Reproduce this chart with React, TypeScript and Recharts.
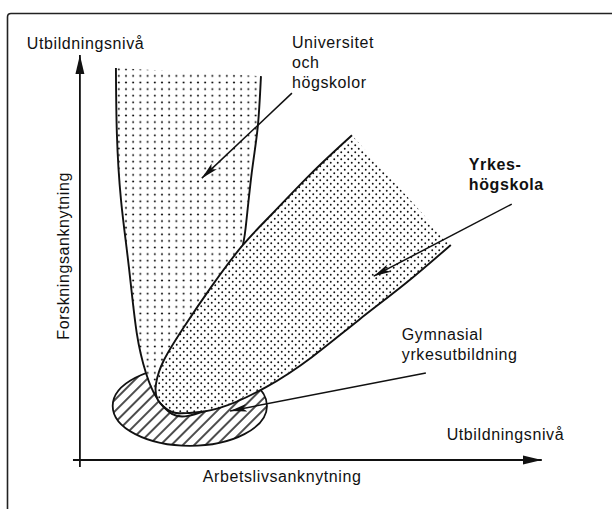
import { ScatterChart, Scatter, XAxis, YAxis } from "recharts";

// coordinates are in axis units: origin where the two axes cross, 100 = arrow tip
type Pt = { x: number; y: number };
const pts = (a: number[][]): Pt[] => a.map(([x, y]) => ({ x, y }));

const X_DOMAIN = [-17.3, 115.2];
const Y_DOMAIN = [-12.1, 113.6];

const INK = "#111";
const FONT = "'Liberation Sans', Arial, Helvetica, sans-serif";

// Universitet och högskolor (U-shaped band)
const universitetLeft = pts([
  [7.8, 96.8], [8.0, 80.7], [8.9, 64.2], [10.6, 47.7], [12.3, 31.4],
  [14.3, 21.5], [16.5, 15.6], [19.9, 11.4], [23.4, 10.9], [27.0, 12.1],
]);
const universitetRight = pts([
  [39.2, 94.8], [38.5, 82.2], [37.2, 70.9], [35.9, 57.5], [35.3, 53.1], [34.2, 45.0],
]);
const universitetInner = pts([[31.0, 28.0]]);

// Yrkeshögskola (diagonal band)
const yrkesUpper = pts([
  [58.9, 80.2], [50.2, 70.9], [41.8, 61.0], [35.3, 53.1], [28.4, 42.7], [22.5, 32.8],
  [18.2, 24.7], [16.5, 19.0], [16.9, 14.8], [19.9, 11.9], [23.4, 11.6],
]);
const yrkesLower = pts([
  [30.1, 12.8], [40.3, 18.0], [50.2, 25.4], [60.4, 34.6], [70.6, 43.7], [80.3, 53.1],
]);

// Gymnasial yrkesutbildning (ellipse bounding box)
const gymnasialBox = pts([[7.1, 23.2], [40.5, 3.5]]);

// axes and pointer arrows (start -> tip)
const yAxisLine = pts([[0, -1.7], [0, 100]]);
const xAxisLine = pts([[-1.5, 0], [100, 0]]);
const arrowUniversitet = pts([[45.9, 90.6], [26.4, 69.6]]);
const arrowYrkes = pts([[93.5, 63.2], [63.6, 45.4]]);
const arrowGymnasial = pts([[74.9, 21.5], [32.5, 12.1]]);

// texts
const universitetLabel = ["Universitet", "och", "högskolor"];
const yrkesLabel = ["Yrkes-", "högskola"];
const gymnasialLabel = ["Gymnasial", "yrkesutbildning"];
const yTitleTop = ["Utbildningsnivå"];
const xTitleRight = ["Utbildningsnivå"];
const xTitle = ["Arbetslivsanknytning"];
const yTitle = ["Forskningsanknytning"];

const universitetAt = pts([[45.9, 101.7]]);
const yrkesAt = pts([[84.2, 71.6]]);
const gymnasialAt = pts([[69.7, 29.6]]);
const yTitleTopAt = pts([[-11.5, 101.5]]);
const xTitleRightAt = pts([[79.4, 4.9]]);
const xTitleAt = pts([[26.6, -5.4]]);
const yTitleAt = pts([[-2.3, 50.4]]);

const hidden = () => <g />;

const textShape =
  (lines: string[], bold = false, rotate = false) =>
  (p: any) => (
    <text
      x={p.cx}
      y={p.cy}
      fontFamily={FONT}
      fontSize={16}
      letterSpacing={0.6}
      fontWeight={bold ? 700 : 400}
      fill={INK}
      textAnchor={rotate ? "middle" : "start"}
      transform={rotate ? `rotate(-90 ${p.cx} ${p.cy})` : undefined}
    >
      {lines.map((l, i) => (
        <tspan key={i} x={p.cx} dy={i === 0 ? 0 : 20}>
          {l}
        </tspan>
      ))}
    </text>
  );

const ellipseLine = (p: any) => {
  const [a, b] = p.points;
  return (
    <ellipse
      cx={(a.x + b.x) / 2}
      cy={(a.y + b.y) / 2}
      rx={Math.abs(b.x - a.x) / 2}
      ry={Math.abs(b.y - a.y) / 2}
      fill="url(#hatch)"
      stroke={INK}
      strokeWidth={1.8}
    />
  );
};

const arrowLine = (marker: string, width: number) => (p: any) => {
  const [a, b] = p.points;
  return (
    <path
      d={`M${a.x},${a.y}L${b.x},${b.y}`}
      stroke={INK}
      strokeWidth={width}
      fill="none"
      markerEnd={`url(#${marker})`}
    />
  );
};

const outline = { stroke: INK, strokeWidth: 1.9, fill: "none" };

export default function App() {
  const universitetFill = [...universitetLeft, ...universitetInner, ...[...universitetRight].reverse()];
  const yrkesOutline = [...yrkesUpper, ...yrkesLower];

  return (
    <div style={{ position: "absolute", left: 0, top: 0, width: 612, height: 509, background: "#fff" }}>
      <ScatterChart width={612} height={509} margin={{ top: 0, right: 0, bottom: 0, left: 0 }}>
        <defs>
          <pattern id="dotsSparse" patternUnits="userSpaceOnUse" width={7.2} height={6.6}>
            <rect width={7.2} height={6.6} fill="#fff" />
            <circle cx={3.6} cy={3.3} r={1.05} fill={INK} />
          </pattern>
          <pattern id="dotsDense" patternUnits="userSpaceOnUse" width={7} height={7}>
            <rect width={7} height={7} fill="#fff" />
            <circle cx={1.75} cy={1.75} r={0.95} fill={INK} />
            <circle cx={5.25} cy={5.25} r={0.95} fill={INK} />
          </pattern>
          <pattern id="hatch" patternUnits="userSpaceOnUse" width={8} height={8} patternTransform="rotate(45)">
            <rect width={8} height={8} fill="#fff" />
            <line x1={4} y1={0} x2={4} y2={8} stroke={INK} strokeWidth={1.5} />
          </pattern>
          <marker id="dart" markerUnits="userSpaceOnUse" markerWidth={18} markerHeight={9} refX={17} refY={4.5} orient="auto">
            <path d="M0,0.6 L17,4.5 L0,8.4 L4,4.5 Z" fill={INK} />
          </marker>
          <marker id="axisHead" markerUnits="userSpaceOnUse" markerWidth={20} markerHeight={10} refX={19} refY={5} orient="auto">
            <path d="M0,0.5 L19,5 L0,9.5 Z" fill={INK} />
          </marker>
        </defs>
        <path d="M7.5,509 L7.5,17 Q7.5,13.5 11,13.5 L612,13.5" fill="none" stroke="#222" strokeWidth={1.6} />
        <XAxis type="number" dataKey="x" domain={X_DOMAIN} allowDataOverflow hide />
        <YAxis type="number" dataKey="y" domain={Y_DOMAIN} allowDataOverflow hide />

        <Scatter data={gymnasialBox} shape={hidden} line={ellipseLine} isAnimationActive={false} />

        <Scatter
          data={universitetFill}
          shape={hidden}
          line={{ fill: "url(#dotsSparse)", stroke: "none" }}
          lineJointType="linearClosed"
          isAnimationActive={false}
        />
        <Scatter data={universitetLeft} shape={hidden} line={outline} lineJointType="natural" isAnimationActive={false} />
        <Scatter data={universitetRight} shape={hidden} line={outline} lineJointType="natural" isAnimationActive={false} />

        <Scatter
          data={yrkesOutline}
          shape={hidden}
          line={{ fill: "url(#dotsDense)", stroke: "none" }}
          lineJointType="linearClosed"
          isAnimationActive={false}
        />
        <Scatter data={yrkesOutline} shape={hidden} line={outline} lineJointType="natural" isAnimationActive={false} />

        <Scatter data={yAxisLine} shape={hidden} line={arrowLine("axisHead", 1.8)} isAnimationActive={false} />
        <Scatter data={xAxisLine} shape={hidden} line={arrowLine("axisHead", 1.8)} isAnimationActive={false} />
        <Scatter data={arrowUniversitet} shape={hidden} line={arrowLine("dart", 1.5)} isAnimationActive={false} />
        <Scatter data={arrowYrkes} shape={hidden} line={arrowLine("dart", 1.5)} isAnimationActive={false} />
        <Scatter data={arrowGymnasial} shape={hidden} line={arrowLine("dart", 1.5)} isAnimationActive={false} />

        <Scatter data={universitetAt} shape={textShape(universitetLabel)} isAnimationActive={false} />
        <Scatter data={yrkesAt} shape={textShape(yrkesLabel, true)} isAnimationActive={false} />
        <Scatter data={gymnasialAt} shape={textShape(gymnasialLabel)} isAnimationActive={false} />
        <Scatter data={yTitleTopAt} shape={textShape(yTitleTop)} isAnimationActive={false} />
        <Scatter data={xTitleRightAt} shape={textShape(xTitleRight)} isAnimationActive={false} />
        <Scatter data={xTitleAt} shape={textShape(xTitle)} isAnimationActive={false} />
        <Scatter data={yTitleAt} shape={textShape(yTitle, false, true)} isAnimationActive={false} />
      </ScatterChart>
    </div>
  );
}
